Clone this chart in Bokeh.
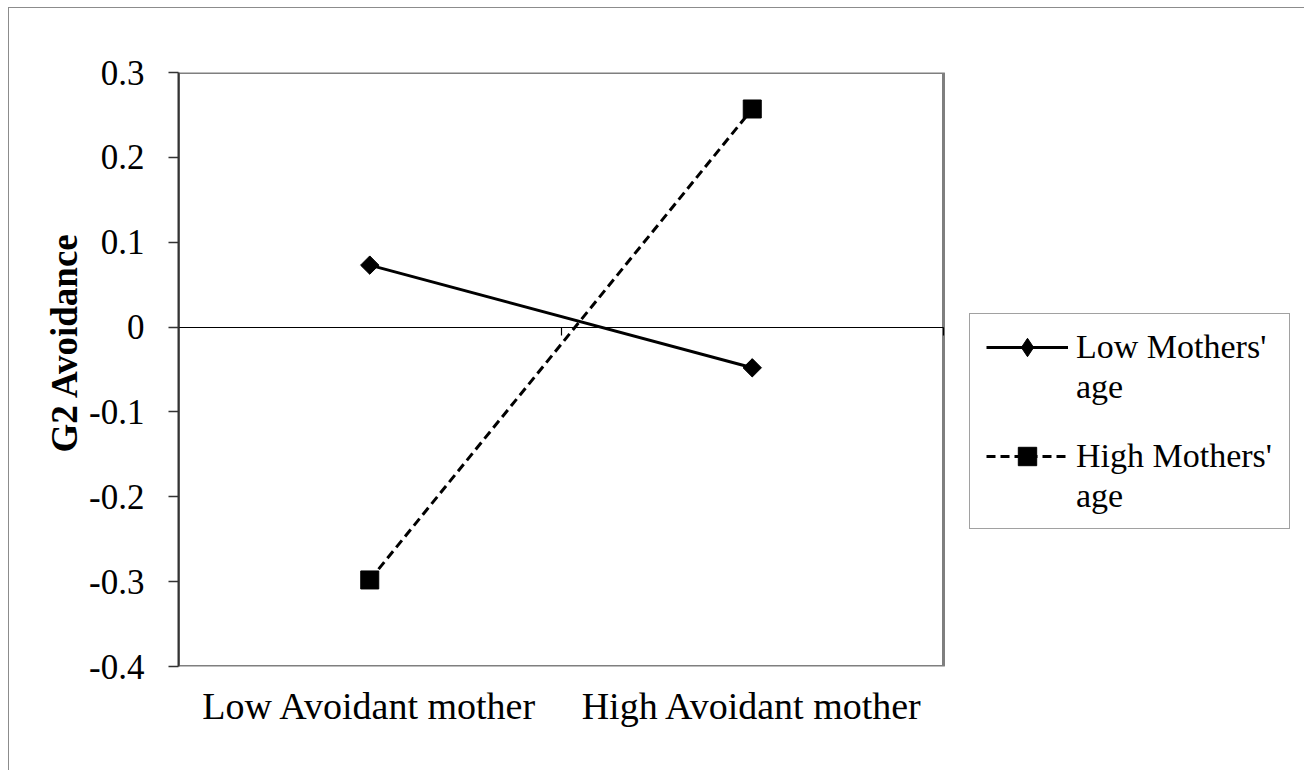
from bokeh.plotting import figure
from bokeh.models import (Range1d, FixedTicker, LinearAxis, Legend, LegendItem,
                          BoxAnnotation, Title)
from bokeh.embed import file_html
from bokeh.resources import INLINE

categories = ["Low Avoidant mother", "High Avoidant mother"]
series_first = ["Low Mothers'", "High Mothers'"]
series_second = ["age", "age"]
low_age = [0.073, -0.048]
high_age = [-0.298, 0.257]
y_ticks = [-0.4, -0.3, -0.2, -0.1, 0.0, 0.1, 0.2, 0.3]
y_tick_labels = ["-0.4", "-0.3", "-0.2", "-0.1", "0", "0.1", "0.2", "0.3"]
y_title = "G2 Avoidance"
Y_MIN, Y_MAX = -0.4, 0.3

FONT = "Liberation Serif"

# layout (pixels)
W, H = 1304, 770
LEFT, TOP = 178, 72
PLOT_W, PLOT_H = 765, 594           # Excel plot-area size
RIGHT_PAD = 4
FRAME_W = W - LEFT - RIGHT_PAD
n = len(categories)
x_end = n * FRAME_W / PLOT_W          # frame extends right to hold the legend
xs = [i + 0.5 for i in range(n)]

p = figure(width=W, height=H, output_backend="svg", toolbar_location=None,
           x_range=Range1d(0, x_end), y_range=Range1d(Y_MIN, Y_MAX),
           min_border_left=LEFT, min_border_right=RIGHT_PAD, min_border_top=TOP,
           min_border_bottom=H - TOP - PLOT_H)
p.styles = {"background": "white",
            "box-shadow": "inset 8px 7px 0 0 white, inset 9px 8px 0 0 #8c8c8c"}
p.grid.visible = False
p.background_fill_alpha = 0
p.border_fill_alpha = 0
p.outline_line_color = None

# plot-area border
p.add_layout(BoxAnnotation(left=0, right=n, bottom=Y_MIN, top=Y_MAX,
                           fill_alpha=0, line_color="#7f7f7f", line_alpha=1,
                           line_width=3, level="underlay"))

# y axis
ya = p.yaxis[0]
ya.ticker = FixedTicker(ticks=y_ticks)
ya.major_label_overrides = {v: s for v, s in zip(y_ticks, y_tick_labels)}
ya.axis_line_color = "#333333"
ya.axis_line_width = 2
ya.major_tick_out = 10
ya.major_tick_in = 0
ya.major_tick_line_color = "#333333"
ya.major_tick_line_width = 1.5
ya.minor_tick_line_color = None
ya.major_label_text_font = FONT
ya.major_label_text_font_size = "35px"
ya.major_label_text_color = "black"
ya.major_label_standoff = 24

yt = Title(text=y_title, align="left", offset=214, standoff=4,
           text_font=FONT, text_font_style="bold", text_font_size="37px",
           text_color="black")
p.add_layout(yt, "left")

# category labels at the bottom
xa = p.xaxis[0]
xa.ticker = FixedTicker(ticks=xs)
xa.major_label_overrides = {v: s for v, s in zip(xs, categories)}
xa.axis_line_color = None
xa.major_tick_line_color = None
xa.minor_tick_line_color = None
xa.major_label_text_font = FONT
xa.major_label_text_font_size = "38px"
xa.major_label_text_color = "black"
xa.major_label_standoff = 12

# category axis crossing at zero
za = LinearAxis(fixed_location=0, bounds=(0, n),
                ticker=FixedTicker(ticks=[float(i) for i in range(1, n + 1)]))
za.axis_line_color = "black"
za.axis_line_width = 1.2
za.major_tick_out = 8
za.major_tick_in = 0
za.major_tick_line_color = "black"
za.major_tick_line_width = 1.2
za.minor_tick_line_color = None
za.major_label_text_font_size = "0px"
za.major_label_text_alpha = 0
p.add_layout(za, "below")

l1 = p.line(xs, low_age, line_color="black", line_width=3)
# narrow diamond used as the legend key, hidden under the plotted marker
m1_key = p.scatter(xs, low_age, marker="diamond", size=17,
                   fill_color="black", line_color="black")
m1 = p.scatter(xs, low_age, marker="square", angle=0.785398, size=13,
               fill_color="black", line_color="black")
l2 = p.line(xs, high_age, line_color="black", line_width=3, line_dash="9 5")
m2 = p.scatter(xs, high_age, marker="square", size=18,
               fill_color="black", line_color="black")
blank = p.scatter(x=[], y=[], marker="square", fill_alpha=0, line_alpha=0)


def style_legend(lg, size="34px"):
    lg.label_text_font = FONT
    lg.label_text_font_size = size
    lg.label_text_color = "black"
    lg.margin = 0
    lg.padding = 0
    lg.border_line_color = None
    lg.background_fill_alpha = 0


# legend frame
box = Legend(items=[LegendItem(label=" ", renderers=[blank])], location=(791, 137))
style_legend(box)
box.glyph_width = 1
box.glyph_height = 1
box.label_standoff = 0
box.label_width = 318
box.label_height = 214
box.border_line_color = "#444444"
box.border_line_width = 1.5
box.background_fill_color = "white"
box.background_fill_alpha = 1
p.add_layout(box, "center")

# first lines with keys
keys = Legend(items=[LegendItem(label=series_first[0], renderers=[l1, m1_key]),
                     LegendItem(label=series_first[1], renderers=[l2, m2])],
              location=(808, 187))
style_legend(keys)
keys.glyph_width = 82
keys.glyph_height = 46
keys.label_standoff = 8
keys.spacing = 63
p.add_layout(keys, "center")

# second lines
wraps = Legend(items=[LegendItem(label=series_second[0], renderers=[blank]),
                      LegendItem(label=series_second[1], renderers=[blank])],
               location=(808, 147))
style_legend(wraps)
wraps.glyph_width = 82
wraps.glyph_height = 46
wraps.label_standoff = 8
wraps.spacing = 63
p.add_layout(wraps, "center")

open("out.html", "w").write(file_html(p, INLINE))
